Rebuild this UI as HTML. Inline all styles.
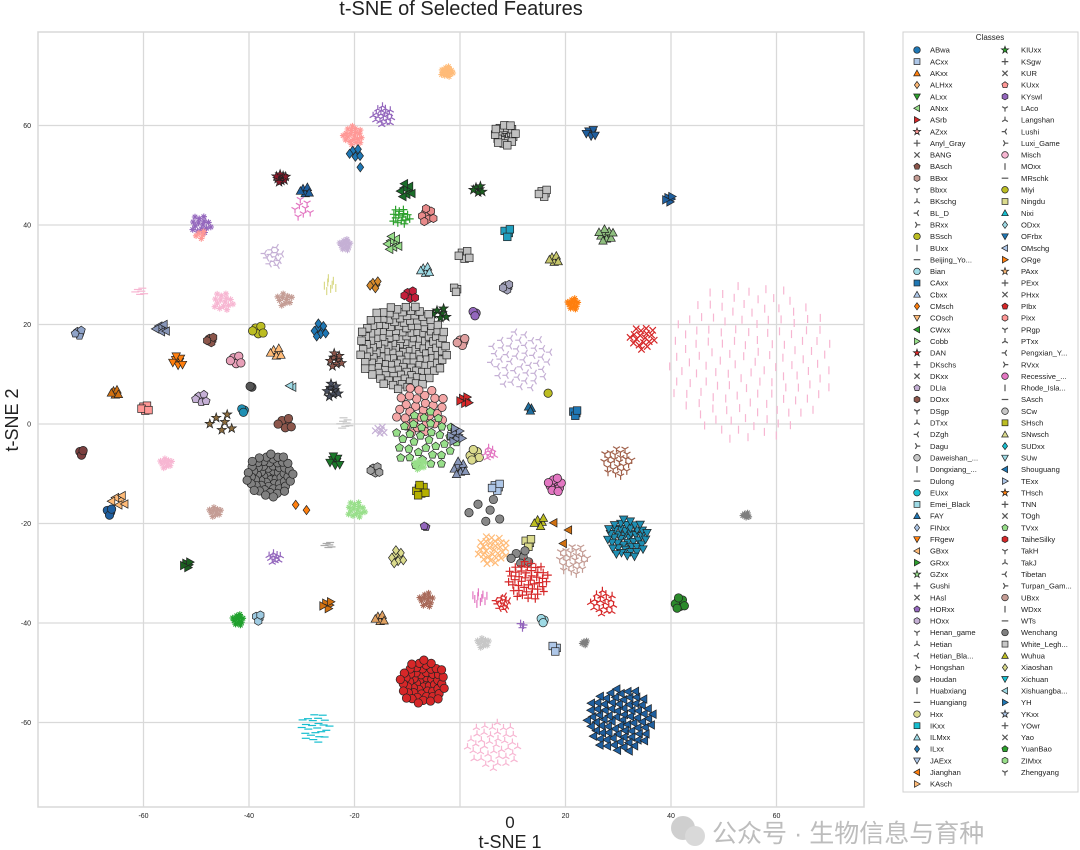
<!DOCTYPE html>
<html><head><meta charset="utf-8"><style>
html,body{margin:0;padding:0;background:#fff;}
svg{display:block;font-family:"Liberation Sans",Arial,sans-serif;}
</style></head><body>
<svg id="chart" width="1080" height="850" viewBox="0 0 1080 850">
<text x="461" y="15" text-anchor="middle" font-size="20" fill="#222">t-SNE of Selected Features</text>
<rect x="38" y="32" width="826" height="775" fill="#fff" stroke="#d8d8d8" stroke-width="1.5"/>
<g id="grid"></g>
<g id="ticks"></g>
<g id="points"></g>
<text x="510" y="828" text-anchor="middle" font-size="17" fill="#222">0</text>
<text x="510" y="848" text-anchor="middle" font-size="18" fill="#222">t-SNE 1</text>
<text x="0" y="0" transform="translate(18,420) rotate(-90)" text-anchor="middle" font-size="18" fill="#222">t-SNE 2</text>
<g id="legend">
<rect x="903" y="32" width="175" height="760" fill="#fff" stroke="#d0d0d0" stroke-width="1"/>
<text x="990" y="40" text-anchor="middle" font-size="8" fill="#222">Classes</text>
</g>
<text x="712" y="842" font-size="25" fill="#bdbdbd" font-family="'Liberation Sans','Noto Sans CJK SC',sans-serif">公众号 · 生物信息与育种</text>
<g opacity="0.6"><circle cx="683" cy="828" r="12" fill="#b0b0b0"/><circle cx="695" cy="836" r="10" fill="#c0c0c0"/></g>
</svg>
<script>
const xTicks = [-60,-40,-20,0,20,40,60];
const yTicks = [-60,-40,-20,0,20,40,60];
const classNames = ["ABwa","ACxx","AKxx","ALHxx","ALxx","ANxx","ASrb","AZxx","Anyl_Gray","BANG","BAsch","BBxx","Bbxx","BKschg","BL_D","BRxx","BSsch","BUxx","Beijing_Yo...","Bian","CAxx","Cbxx","CMsch","COsch","CWxx","Cobb","DAN","DKschs","DKxx","DLIa","DOxx","DSgp","DTxx","DZgh","Dagu","Daweishan_...","Dongxiang_...","Dulong","EUxx","Emei_Black","FAY","FINxx","FRgew","GBxx","GRxx","GZxx","Gushi","HAsl","HORxx","HOxx","Henan_game","Hetian","Hetian_Bla...","Hongshan","Houdan","Huabxiang","Huangiang","Hxx","IKxx","ILMxx","ILxx","JAExx","Jianghan","KAsch",
"KIUxx","KSgw","KUR","KUxx","KYswl","LAco","Langshan","Lushi","Luxi_Game","Misch","MOxx","MRschk","Miyi","Ningdu","Nixi","ODxx","OFrbx","OMschg","ORge","PAxx","PExx","PHxx","PIbx","Pixx","PRgp","PTxx","Pengxian_Y...","RVxx","Recessive_...","Rhode_Isla...","SAsch","SCw","SHsch","SNwsch","SUDxx","SUw","Shouguang","TExx","THsch","TNN","TOgh","TVxx","TaiheSilky","TakH","TakJ","Tibetan","Turpan_Gam...","UBxx","WDxx","WTs","Wenchang","White_Legh...","Wuhua","Xiaoshan","Xichuan","Xishuangba...","YH","YKxx","YOwr","Yao","YuanBao","ZIMxx","Zhengyang"];
// cluster data (t-SNE coordinates)
const clusterX = [-2.5,-14.6,-20.3,-19.9,-18.9,-33.9,-29.4,-29.8,-10.2,-11.2,-6.1,-49.1,-49.1,-12.7,0.8,-21.8,-35.4,-6.6,-24.6,-60.7,-44.9,-33.2,-16.1,-9.5,-3.8,-72.2,-56.7,-38.3,-26.5,-10.8,-53.5,-47.2,-42.5,-34.9,-23.5,-65.4,-59.7,-49.1,-39.6,-32.0,-24.1,-41.1,-45.3,-33.2,-21.8,-15.2,-7.6,-6.6,-71.8,-55.7,-36,-23.7,-16.1,-7.6,-7.4,-64.8,-66.5,-46.4,-30,-19.7,-6.6,-25,-51.6,-35.1,-11.8,-6.4,-25,-15.2,-42.1,-38.3,-7,-27.5,8.5,24.8,3.4,15.9,39.8,8.9,27.7,17.8,8.9,-0.8,2.8,21.4,34.7,55,11.4,0.4,16.7,0.9,13.3,21.8,-0.6,0,2.8,5.7,7,18,29.8,4.7,15.2,6.1,12.9,11.4,12.9,8,21.4,31.7,19.3,27.1,41.7,3.8,15.7,4.4,23.7,18,11.8,54.2,30.3,6.3];
const clusterY = [70.8,61.9,57.9,54.5,51.6,49.4,47.0,43.4,47.0,41.6,42.0,40,38,36.4,34.0,36,33.6,31,28,26.7,24.5,25,28,26,22.3,18.3,19.3,18.9,18.9,15.5,12.5,16.9,12.9,14.5,12.9,6.4,3.2,5.2,7.4,7.4,6.8,2.8,0.4,0.2,0.2,-1.2,2.8,-3.2,-5.8,-7.9,-10.3,-7.6,-9.2,-8.2,-13.3,-15.3,-17.7,-17.7,-17.3,-17.3,-20.7,-24.3,-28.3,-26.9,-26.7,-35.4,-36.4,-39,-39.4,-39,-51.9,-61.1,58.1,58.5,47.2,46.4,45.2,38.4,38.0,33.2,27.5,27.1,22.3,24.1,17.3,12.5,12.9,16.5,6.2,4.8,3.2,2.2,-2.2,-8.8,-6.2,-5.8,-12.7,-12.3,-7.6,-17.3,-19.7,-25.3,-23.9,-26.7,-31.4,-36,-27.3,-22.9,-21.3,-36,-36,-35,-39.4,-44,-44,-45,-40.4,-18.3,-59.5,-64.5];
const clusterCount = [14,20,20,6,1,10,6,8,8,15,8,15,5,8,6,12,12,6,8,6,15,10,5,6,6,5,6,6,8,160,7,5,6,6,8,6,6,6,2,2,8,3,6,6,8,6,30,35,4,10,60,7,6,10,8,6,4,10,2,15,2,6,5,10,8,12,5,6,12,4,55,25,25,6,6,5,5,4,10,6,5,3,3,12,18,140,45,5,1,6,3,4,8,8,8,8,5,12,25,6,5,30,4,6,45,12,25,45,3,20,8,10,3,10,5,3,3,6,80,40];
const clusterSpread = [1.2,2,2,1.2,0,1,1,2,1.5,1.8,1.5,2,1,1.5,1.2,1.2,2,1,1.5,1,2,1.5,1,1.2,1.5,0.8,1.2,1.2,1.5,8.5,1.2,0.8,1.2,1.2,1.5,0.8,0.8,1.2,0.3,0.5,1.5,0.5,2.5,1.5,1.2,1,5,6,0.6,1.2,4.5,1.2,1,1.2,1.2,1.5,0.8,1.2,1.8,1.8,0.3,0.8,0.8,1.2,1.5,1.5,1,1,1.2,0.8,4.5,3,2.2,1,1,1,0.8,1,1.5,1,0.8,0.6,0.6,1.2,2.5,16,6,1,0,1,0.6,0.7,1.5,1.5,1.2,1.2,1,1.5,3,3.5,1.2,3,1,2,4,1.5,3,4,3,2.5,1.2,1.5,0.6,1.2,0.6,0.8,0.6,0.7,6.5,5];
// styles per cluster ('b' = fuzzy blob of thin marks)
const clusterMarker = ['b','2','b','D','D','*','^','1','<','+','h','b','b','<','s','b','3','^','|','_','b','b','D','h','*','p','<','o','D','s','v','h','o','^','*','^','s','p','o','<','*','o','*','o','_','x','o','p','o','b','o','v','h','b','s','<','o','b','D','b','p','_','>','2','D','b','>','^','b','h','o','_','s','v','*','s','>','s','^','^','h','s','o','b','x','|','3','o','o','>','^','s','>','^','o','2','s','o','1','o','^','x','s','o','+','3','1','v','<','2','o','|','o','b','b','s','+','b','<','2'];
const clusterColor = ['#ffbb78','#9467bd','#ff9896','#1f77b4','#1f77b4','#8b1a2b','#1f5f9f','#e377c2','#1b6e2a','#2ca02c','#e88a8a','#9467bd','#ff9896','#98df8a','#c0c0c0','#c5b0d5','#c5b0d5','#9edae5','#dbdb8d','#f7b6d2','#f7b6d2','#c49c94','#d68a2b','#c41e3a','#1b5e20','#8fa3c8','#8896b8','#bcbd22','#1f77b4','#c0c0c0','#ff7f0e','#8c564b','#e8a0b8','#ffbb78','#8c564b','#d07010','#ff9896','#c5b0d5','#555555','#9edae5','#4a5060','#1f8fb3','#8c6d3f','#8c564b','#c7c7c7','#c5b0d5','#f4a6a6','#98df8a','#7b3f3f','#f7b6d2','#808080','#1b7a2a','#a0a0a0','#98df8a','#b5b000','#ffbb78','#1f5f9f','#c49c94','#ff7f0e','#98df8a','#9467bd','#aaaaaa','#1b5e20','#9467bd','#dbdb8d','#a86a5a','#d07010','#e0a060','#1fa02c','#9ecae1','#d62728','#17becf','#c0c0c0','#1f5f9f','#1b5e20','#c0c0c0','#1f5f9f','#1f9fbf','#8fbf7f','#c5c56a','#a0a0b8','#c0c0c0','#9467bd','#ff7f0e','#d62728','#f7b6d2','#c5b0d5','#e0a0a0','#bcbd22','#d62728','#1f6fa0','#1f77b4','#8896b8','#8896b8','#dbdb8d','#e377c2','#aec7e8','#e377c2','#a0604a','#888888','#bcbd22','#ffbb78','#dbdb8d','#888888','#d62728','#d62728','#c49c94','#1f8fb3','#d07010','#d62728','#2a8a2a','#e377c2','#9edae5','#c7c7c7','#7f7f7f','#aec7e8','#9467bd','#7f7f7f','#1f5f9f','#f7b6d2'];
const legendMarkers = ['o','s','^','D','v','<','>','*','+','x','p','h','1','2','3','4','8','|','_'];
const tab20 = ['#1f77b4','#aec7e8','#ff7f0e','#ffbb78','#2ca02c','#98df8a','#d62728','#ff9896','#9467bd','#c5b0d5','#8c564b','#c49c94','#e377c2','#f7b6d2','#7f7f7f','#c7c7c7','#bcbd22','#dbdb8d','#17becf','#9edae5'];

const NS='http://www.w3.org/2000/svg';
const X0=38,X1=864,Y0=32,Y1=807;
function sx(v){return 460+v*5.275;}
function sy(v){return 424-v*4.975;}
function mk(tag,attrs,parent){const e=document.createElementNS(NS,tag);for(const k in attrs)e.setAttribute(k,attrs[k]);parent.appendChild(e);return e;}

const grid=document.getElementById('grid'),ticks=document.getElementById('ticks');
xTicks.forEach(t=>{
  const l=mk('line',{x1:sx(t),x2:sx(t),y1:Y0,y2:Y1,stroke:'#d9d9d9','stroke-width':1.3},grid);
  
  
  if(t!==0){const tx=mk('text',{x:sx(t),y:818,'text-anchor':'middle','font-size':7,fill:'#222'},ticks);tx.textContent=t;
  
  }
});
yTicks.forEach(t=>{
  const l=mk('line',{x1:X0,x2:X1,y1:sy(t),y2:sy(t),stroke:'#d9d9d9','stroke-width':1.3},grid);
  
  
  const tx=mk('text',{x:31,y:sy(t)+2.5,'text-anchor':'end','font-size':7,fill:'#222'},ticks);tx.textContent=t;
  
  
});

function marker(parent,m,cx,cy,s,color){
  const g=mk('g',{transform:`translate(${cx.toFixed(1)},${cy.toFixed(1)})`},parent);
  const fill={fill:color,stroke:'#222','stroke-width':0.7};
  const ln={stroke:color,'stroke-width':1.2,fill:'none'};
  const pts=(arr)=>arr.map(p=>p[0].toFixed(1)+','+p[1].toFixed(1)).join(' ');
  const poly=(n,r,rot)=>{const a=[];for(let i=0;i<n;i++){const t=rot+i*2*Math.PI/n;a.push([r*Math.cos(t),r*Math.sin(t)]);}return a;};
  switch(m){
    case 'o': case '8': mk('circle',Object.assign({r:s},fill),g);break;
    case 's': mk('rect',Object.assign({x:-s*0.9,y:-s*0.9,width:s*1.8,height:s*1.8},fill),g);break;
    case 'D': mk('polygon',Object.assign({points:pts([[0,-s*1.1],[s*0.8,0],[0,s*1.1],[-s*0.8,0]])},fill),g);break;
    case '^': mk('polygon',Object.assign({points:pts([[0,-s],[s,s*0.8],[-s,s*0.8]])},fill),g);break;
    case 'v': mk('polygon',Object.assign({points:pts([[0,s],[s,-s*0.8],[-s,-s*0.8]])},fill),g);break;
    case '<': mk('polygon',Object.assign({points:pts([[-s,0],[s*0.8,-s],[s*0.8,s]])},fill),g);break;
    case '>': mk('polygon',Object.assign({points:pts([[s,0],[-s*0.8,-s],[-s*0.8,s]])},fill),g);break;
    case 'p': mk('polygon',Object.assign({points:pts(poly(5,s,-Math.PI/2))},fill),g);break;
    case 'h': mk('polygon',Object.assign({points:pts(poly(6,s,-Math.PI/2))},fill),g);break;
    case '*': {const a=[];for(let i=0;i<10;i++){const r=i%2?s*0.45:s*1.15,t=-Math.PI/2+i*Math.PI/5;a.push([r*Math.cos(t),r*Math.sin(t)]);}
      mk('polygon',Object.assign({points:pts(a)},fill),g);break;}
    case 'b': mk('path',{d:`M${-s},0H${s}M0,${-s}V${s}M${-s*0.7},${-s*0.7}L${s*0.7},${s*0.7}M${-s*0.7},${s*0.7}L${s*0.7},${-s*0.7}`,stroke:color,'stroke-width':1.1,fill:'none'},g);break;
    case '+': mk('path',Object.assign({d:`M${-s},0H${s}M0,${-s}V${s}`},ln),g);break;
    case 'x': mk('path',Object.assign({d:`M${-s*0.8},${-s*0.8}L${s*0.8},${s*0.8}M${-s*0.8},${s*0.8}L${s*0.8},${-s*0.8}`},ln),g);break;
    case '|': mk('path',Object.assign({d:`M0,${-s}V${s}`},ln),g);break;
    case '_': mk('path',Object.assign({d:`M${-s},0H${s}`},ln),g);break;
    case '1': mk('path',Object.assign({d:`M0,0V${s}M0,0L${-s*0.87},${-s*0.5}M0,0L${s*0.87},${-s*0.5}`},ln),g);break;
    case '2': mk('path',Object.assign({d:`M0,0V${-s}M0,0L${-s*0.87},${s*0.5}M0,0L${s*0.87},${s*0.5}`},ln),g);break;
    case '3': mk('path',Object.assign({d:`M0,0H${-s}M0,0L${s*0.5},${-s*0.87}M0,0L${s*0.5},${s*0.87}`},ln),g);break;
    case '4': mk('path',Object.assign({d:`M0,0H${s}M0,0L${-s*0.5},${-s*0.87}M0,0L${-s*0.5},${s*0.87}`},ln),g);break;
  }
  return g;
}

const pg=document.getElementById('points');
const GA=2.399963;
for(let c=0;c<clusterX.length;c++){
  const cg=mk('g',{},pg);
  
  
  const n=clusterCount[c],R=clusterSpread[c];
  const m=clusterMarker[c];
  const filled='osD^v<>ph8*'.includes(m);
  const size=m==='b'?3.2:(filled?4.2:4);
  for(let k=0;k<n;k++){
    const r=R*Math.sqrt((k+0.5)/n),t=k*GA;
    const vx=clusterX[c]+r*Math.cos(t),vy=clusterY[c]+r*Math.sin(t);
    const el=marker(cg,m,sx(vx),sy(vy),size,clusterColor[c]);
    
    
  }
}

// legend
const lg=document.getElementById('legend');
const half=64;
classNames.forEach((name,i)=>{
  const col=i<half?0:1,row=i<half?i:i-half;
  const y=50+row*11.65;
  const mx=col?1005:917,tx=col?1021:930;
  const e=mk('g',{},lg);
  
  
  const m=legendMarkers[i%19];
  const color=tab20[i%20];
  marker(e,m,mx,y,3.3,'|_+x1234'.includes(m)?'#555':color);
  const t=mk('text',{x:tx,y:y+2.7,'font-size':7.6,fill:'#222'},e);
  t.textContent=name;
});
</script>
</body></html>
